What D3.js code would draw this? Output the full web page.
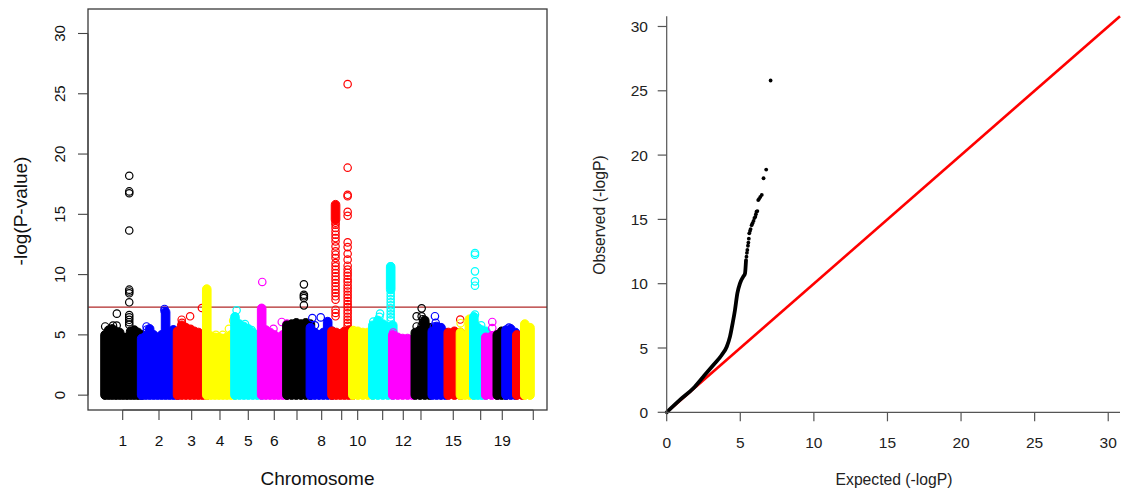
<!DOCTYPE html>
<html>
<head>
<meta charset="utf-8">
<script src="https://cdn.jsdelivr.net/npm/d3@7"></script>
<style>
  body { margin: 0; background: #fff; }
  text { font-family: "Liberation Sans", Arial, Helvetica, sans-serif; }
</style>
</head>
<body>
<svg id="chart" width="1121" height="495"></svg>
<script>
// ---------- Manhattan plot data ----------
const chromNames = ["1","2","3","4","5","6","7","8","9","10","11","12","13","14","15","16","17","18","19","20","21","22"];
// chromosome lengths (Mb, hg19)
const chromLengthMb = [249.25, 243.2, 198.02, 191.15, 180.92, 171.12, 159.14, 146.36, 141.21, 135.53, 135.01, 133.85,
                       115.17, 107.35, 102.53, 90.35, 81.2, 78.08, 59.13, 63.03, 48.13, 51.3];
// position of the first typed SNP on each chromosome (Mb)
const chromFirstSnpMb = [0.7, 0, 0, 0, 0, 0, 0, 0, 0, 0, 0, 0, 19, 19, 20, 0, 0, 0, 0, 0, 10, 16];
const chromColors = ["#000000", "#0000ff", "#ff0000", "#ffff00", "#00ffff", "#ff00ff"];

// upper edge of the dense bulk of SNPs, sampled evenly along each chromosome (-log10 P)
const bulkTop = [
  [5.0, 5.4, 5.5, 5.3, 5.2, 4.8, 4.8, 5.3, 5.4, 5.2, 5.0],
  [4.7, 4.9, 5.5, 5.0, 4.7, 5.0, 6.9, 4.8, 5.4, 4.9],
  [5.3, 5.8, 5.6, 5.4, 5.3, 5.2, 5.0, 5.1],
  [8.8, 4.9, 4.8, 4.8, 4.7, 4.8, 5.0, 5.1],
  [6.5, 5.9, 5.7, 5.5, 5.2, 5.0, 4.9],
  [7.2, 5.4, 5.2, 5.0, 4.8, 5.0, 5.9],
  [5.8, 5.9, 6.0, 5.9, 6.0, 5.9],
  [5.6, 5.2, 5.0, 5.2, 6.1, 5.3],
  [5.3, 5.2, 5.1, 5.3, 5.4, 5.2],
  [5.3, 5.3, 5.2, 5.2, 5.1],
  [5.8, 6.2, 5.9, 5.7, 5.8],
  [5.0, 4.8, 4.7, 4.7, 4.6],
  [5.2, 5.4, 6.2, 5.6],
  [5.3, 5.7, 5.6, 5.2],
  [5.2, 5.3, 5.2],
  [5.2, 4.9, 6.3, 6.1],
  [6.5, 5.6, 5.4, 5.3],
  [4.8, 4.9, 5.0],
  [5.0, 5.3, 5.3],
  [5.4, 5.5, 5.2],
  [5.0, 4.9],
  [5.9, 5.6]
];

// solid runs of overlapping SNPs: [chromosome, position Mb, from, to]
const denseRuns = [
  [9, 24, 14.55, 15.8],
  [11, 121, 8.75, 10.65]
];

// individual SNPs standing out of the bulk: [chromosome, position Mb, -log10 P]
const topHits = [
  [1, 2, 5.7], [1, 55, 5.77], [1, 80, 5.77], [1, 81, 6.76],
  [1, 165, 18.2], [1, 165, 16.9], [1, 165, 16.75], [1, 165, 13.66], [1, 165, 8.75], [1, 165, 8.6], [1, 165, 8.45],
  [1, 165, 7.7], [1, 165, 6.65], [1, 165, 6.45], [1, 165, 6.25], [1, 165, 6.05], [1, 165, 5.85], [1, 232, 4.95],
  [2, 33, 5.7], [2, 35, 5.45], [2, 155, 7.15], [2, 155, 7.0], [2, 214, 5.45], [2, 220, 5.2],
  [3, 28, 6.26], [3, 30, 6.0], [3, 85, 6.54], [3, 88, 5.5], [3, 165, 7.23],
  [4, 62, 5.0], [4, 108, 5.0], [4, 150, 5.5], [4, 179, 6.18],
  [5, 11, 7.04], [5, 68, 5.9], [5, 113, 5.4], [5, 120, 5.15],
  [6, 4, 9.39], [6, 80, 5.5], [6, 136, 6.07],
  [7, 115, 9.19], [7, 115, 8.33], [7, 115, 8.2], [7, 115, 8.06], [7, 115, 7.45],
  [8, 13, 6.4], [8, 31, 5.8], [8, 70, 6.45],
  [9, 24, 14.3], [9, 24, 14.13], [9, 24, 13.86], [9, 24, 13.58], [9, 24, 13.31], [9, 24, 13.03], [9, 24, 12.75],
  [9, 24, 12.34], [9, 24, 11.93], [9, 24, 11.65], [9, 24, 11.37], [9, 24, 10.96], [9, 24, 10.69], [9, 24, 10.41],
  [9, 24, 10.13], [9, 24, 9.85], [9, 24, 9.58], [9, 24, 9.3], [9, 24, 9.02], [9, 24, 8.75], [9, 24, 8.47],
  [9, 24, 8.2], [9, 24, 7.92], [9, 24, 7.09], [9, 24, 6.82], [9, 24, 6.54],
  [9, 106, 25.8], [9, 106, 18.87], [9, 106, 16.62], [9, 106, 16.5], [9, 106, 15.2], [9, 106, 14.88],
  [9, 106, 12.67], [9, 106, 12.28], [9, 106, 11.73], [9, 106, 11.24], [9, 106, 10.74], [9, 106, 10.42],
  [9, 106, 10.15], [9, 106, 9.9], [9, 106, 9.62], [9, 106, 9.38], [9, 106, 9.1], [9, 106, 8.85], [9, 106, 8.6],
  [9, 106, 8.33], [9, 106, 8.08], [9, 106, 7.8], [9, 106, 7.55], [9, 106, 7.3], [9, 106, 7.02], [9, 106, 6.78],
  [9, 106, 6.5], [9, 106, 6.25], [9, 106, 6.0], [9, 106, 5.75],
  [10, 3, 5.4],
  [11, 3, 6.1], [11, 45, 6.5], [11, 49, 6.76],
  [11, 121, 10.68], [11, 121, 8.45], [11, 121, 8.2], [11, 121, 7.95], [11, 121, 7.7], [11, 121, 7.45],
  [11, 121, 7.2], [11, 121, 6.95], [11, 121, 6.7], [11, 121, 6.45], [11, 121, 6.2],
  [12, 3, 5.2],
  [13, 28, 6.54], [13, 28, 5.7], [13, 62, 7.2], [13, 62, 6.54], [13, 62, 5.75], [13, 70, 6.3], [13, 70, 6.0],
  [14, 30, 5.7], [14, 37, 6.55], [14, 42, 6.0],
  [15, 101, 6.27],
  [16, 1, 5.97],
  [17, 8, 11.79], [17, 8, 11.65], [17, 8, 10.27], [17, 8, 9.44], [17, 8, 9.08], [17, 8, 6.68], [17, 50, 5.8],
  [18, 44, 6.07], [18, 44, 5.57],
  [20, 20, 5.6]
];

const genomeWideThreshold = 7.3;
// chromosome axis ticks: genome position (Mb) and label
const chromTickMb = [120.6, 366.6, 588.2, 780.0, 971.8, 1148.0, 1301.9, 1469.2, 1604.8, 1713.2, 1882.6,
                     2022.2, 2142.2, 2361.0, 2546.8, 2693.1, 2903.2];
const chromTickLabels = ["1", "2", "3", "4", "5", "6", "", "8", "", "10", "", "12", "", "15", "", "19", ""];
const manhattanYTicks = [0, 5, 10, 15, 20, 25, 30];
const manhattanYMax = 30.8;

// ---------- QQ plot data ----------
// dense part of the observed-vs-expected curve
const qqExpected = [0, 0.9, 1.81, 2.49, 3.17, 3.74, 4.08, 4.3, 4.48, 4.64, 4.8, 4.98, 5.2, 5.32, 5.39];
const qqObserved = [0, 0.96, 1.87, 2.77, 3.68, 4.46, 5.1, 5.88, 6.92, 7.96, 9.25, 10.03, 10.55, 10.8, 11.84];
// sparse tail
const qqTailExpected = [5.42, 5.45, 5.48, 5.52, 5.55, 5.58, 5.61, 5.66, 5.7, 5.77, 5.83, 5.9, 5.96, 6.02, 6.06,
                        6.1, 6.16, 6.22, 6.28, 6.36, 6.46, 6.58, 6.76, 7.06];
const qqTailObserved = [12.1, 12.4, 12.62, 12.95, 13.2, 13.5, 13.92, 14.1, 14.25, 14.55, 14.7, 14.88, 15.1, 15.2, 15.4,
                        15.6, 15.65, 16.5, 16.6, 16.75, 16.9, 18.2, 18.87, 25.8];
const qqTicks = [0, 5, 10, 15, 20, 25, 30];
const qqMax = 30.8;

// ---------- drawing ----------
const svg = d3.select("#chart");
svg.append("rect").attr("width", 1121).attr("height", 495).attr("fill", "#fff");

// cumulative chromosome offsets
const chromOffset = [0].concat(Array.from(d3.cumsum(chromLengthMb)).slice(0, -1));
const genomeMin = chromFirstSnpMb[0];
const genomeMax = d3.sum(chromLengthMb);
const pad = 0.04 * (genomeMax - genomeMin);

const mPlot = { left: 88, right: 547, top: 9, bottom: 410 };
const xM = d3.scaleLinear().domain([genomeMin - pad, genomeMax + pad]).range([mPlot.left, mPlot.right]);
const yPad = 0.04 * manhattanYMax;
const yM = d3.scaleLinear().domain([-yPad, manhattanYMax + yPad]).range([mPlot.bottom, mPlot.top]);

const R = 4.3; // point radius
const manhattan = svg.append("g");

// genome-wide significance line
manhattan.append("line")
  .attr("x1", mPlot.left).attr("x2", mPlot.right)
  .attr("y1", yM(genomeWideThreshold)).attr("y2", yM(genomeWideThreshold))
  .attr("stroke", "#b02828").attr("stroke-width", 1.2);

chromNames.forEach((name, ci) => {
  const color = chromColors[ci % chromColors.length];
  const g = manhattan.append("g").attr("class", "chr" + name);
  const tops = bulkTop[ci];
  const start = chromFirstSnpMb[ci], end = chromLengthMb[ci];
  const posAt = i => tops.length === 1 ? (start + end) / 2 : start + (end - start) * i / (tops.length - 1);

  // dense bulk of SNPs
  g.selectAll("rect.bulk").data(tops).join("rect")
    .attr("class", "bulk")
    .attr("x", (d, i) => xM(chromOffset[ci] + posAt(i)) - R)
    .attr("width", 2 * R)
    .attr("y", d => yM(d) - R)
    .attr("height", d => yM(0) - yM(d) + 2 * R)
    .attr("rx", R).attr("ry", R)
    .attr("fill", color).attr("stroke", color).attr("stroke-width", 1);

  // solid runs of overlapping SNPs
  g.selectAll("rect.run").data(denseRuns.filter(r => r[0] === ci + 1)).join("rect")
    .attr("class", "run")
    .attr("x", d => xM(chromOffset[ci] + d[1]) - R)
    .attr("width", 2 * R)
    .attr("y", d => yM(d[3]) - R)
    .attr("height", d => yM(d[2]) - yM(d[3]) + 2 * R)
    .attr("rx", R).attr("ry", R)
    .attr("fill", color).attr("stroke", color).attr("stroke-width", 1);

  // individual SNPs
  g.selectAll("circle").data(topHits.filter(h => h[0] === ci + 1)).join("circle")
    .attr("cx", d => xM(chromOffset[ci] + d[1]))
    .attr("cy", d => yM(d[2]))
    .attr("r", R - 0.6)
    .attr("fill", "none").attr("stroke", color).attr("stroke-width", 1.2);
});

// frame
manhattan.append("rect")
  .attr("x", mPlot.left).attr("y", mPlot.top)
  .attr("width", mPlot.right - mPlot.left).attr("height", mPlot.bottom - mPlot.top)
  .attr("fill", "none").attr("stroke", "#3a3a3a").attr("stroke-width", 1.3);

// y axis
const yAxisM = manhattan.append("g");
yAxisM.selectAll("line").data(manhattanYTicks).join("line")
  .attr("x1", mPlot.left - 10).attr("x2", mPlot.left)
  .attr("y1", d => yM(d)).attr("y2", d => yM(d))
  .attr("stroke", "#444").attr("stroke-width", 1.1);
yAxisM.append("line")
  .attr("x1", mPlot.left).attr("x2", mPlot.left)
  .attr("y1", yM(manhattanYTicks[0])).attr("y2", yM(manhattanYTicks[manhattanYTicks.length - 1]))
  .attr("stroke", "#444").attr("stroke-width", 1.1);
yAxisM.selectAll("text").data(manhattanYTicks).join("text")
  .attr("transform", d => `translate(65,${yM(d)}) rotate(-90)`)
  .attr("text-anchor", "middle")
  .attr("font-size", 15).attr("fill", "#111")
  .text(d => d);

// x axis
const xAxisM = manhattan.append("g");
xAxisM.append("line")
  .attr("x1", xM(chromTickMb[0])).attr("x2", xM(chromTickMb[chromTickMb.length - 1]))
  .attr("y1", mPlot.bottom).attr("y2", mPlot.bottom)
  .attr("stroke", "#444").attr("stroke-width", 1.1);
xAxisM.selectAll("line.tick").data(chromTickMb).join("line")
  .attr("class", "tick")
  .attr("x1", d => xM(d)).attr("x2", d => xM(d))
  .attr("y1", mPlot.bottom).attr("y2", mPlot.bottom + 10)
  .attr("stroke", "#444").attr("stroke-width", 1.1);
xAxisM.selectAll("text").data(chromTickMb).join("text")
  .attr("x", d => xM(d)).attr("y", 446)
  .attr("text-anchor", "middle")
  .attr("font-size", 15.5).attr("fill", "#111")
  .text((d, i) => chromTickLabels[i]);

manhattan.append("text")
  .attr("x", (mPlot.left + mPlot.right) / 2).attr("y", 485)
  .attr("text-anchor", "middle").attr("font-size", 19).attr("fill", "#111")
  .text("Chromosome");
manhattan.append("text")
  .attr("transform", "translate(27,211) rotate(-90)")
  .attr("text-anchor", "middle").attr("font-size", 19).attr("fill", "#111")
  .text("-log(P-value)");

// ---------- QQ plot ----------
const qPlot = { left: 666.7, right: 1120, top: 16.2, bottom: 412.3 };
const xQ = d3.scaleLinear().domain([0, qqMax]).range([qPlot.left, qPlot.right]);
const yQ = d3.scaleLinear().domain([0, qqMax]).range([qPlot.bottom, qPlot.top]);
const qq = svg.append("g");

// identity line
qq.append("line")
  .attr("x1", xQ(0)).attr("y1", yQ(0))
  .attr("x2", xQ(qqMax)).attr("y2", yQ(qqMax))
  .attr("stroke", "#ff0000").attr("stroke-width", 2.6);

const qqPts = qqExpected.map((e, i) => [e, qqObserved[i]]);
qq.append("path")
  .attr("d", d3.line().x(d => xQ(d[0])).y(d => yQ(d[1])).curve(d3.curveMonotoneX)(qqPts))
  .attr("fill", "none").attr("stroke", "#000").attr("stroke-width", 3.8)
  .attr("stroke-linecap", "round").attr("stroke-linejoin", "round");

qq.selectAll("circle").data(qqTailExpected.map((e, i) => [e, qqTailObserved[i]])).join("circle")
  .attr("cx", d => xQ(d[0])).attr("cy", d => yQ(d[1]))
  .attr("r", 1.9).attr("fill", "#000");

// axes
qq.append("line")
  .attr("x1", qPlot.left).attr("x2", qPlot.left).attr("y1", qPlot.top).attr("y2", qPlot.bottom)
  .attr("stroke", "#555").attr("stroke-width", 1.2);
qq.append("line")
  .attr("x1", qPlot.left).attr("x2", qPlot.right).attr("y1", qPlot.bottom).attr("y2", qPlot.bottom)
  .attr("stroke", "#555").attr("stroke-width", 1.2);
qq.selectAll("line.yt").data(qqTicks).join("line").attr("class", "yt")
  .attr("x1", qPlot.left - 9).attr("x2", qPlot.left)
  .attr("y1", d => yQ(d)).attr("y2", d => yQ(d))
  .attr("stroke", "#555").attr("stroke-width", 1.2);
qq.selectAll("line.xt").data(qqTicks).join("line").attr("class", "xt")
  .attr("x1", d => xQ(d)).attr("x2", d => xQ(d))
  .attr("y1", qPlot.bottom).attr("y2", qPlot.bottom + 9)
  .attr("stroke", "#555").attr("stroke-width", 1.2);
qq.selectAll("text.yl").data(qqTicks).join("text").attr("class", "yl")
  .attr("x", 648).attr("y", d => yQ(d)).attr("dy", "0.36em")
  .attr("text-anchor", "end").attr("font-size", 15.5).attr("fill", "#222")
  .text(d => d);
qq.selectAll("text.xl").data(qqTicks).join("text").attr("class", "xl")
  .attr("x", d => xQ(d)).attr("y", 448)
  .attr("text-anchor", "middle").attr("font-size", 15.5).attr("fill", "#222")
  .text(d => d);
qq.append("text")
  .attr("x", 894).attr("y", 485)
  .attr("text-anchor", "middle").attr("font-size", 15.7).attr("fill", "#222")
  .text("Expected (-logP)");
qq.append("text")
  .attr("transform", "translate(605,215) rotate(-90)")
  .attr("text-anchor", "middle").attr("font-size", 15.7).attr("fill", "#222")
  .text("Observed (-logP)");
</script>
</body>
</html>
